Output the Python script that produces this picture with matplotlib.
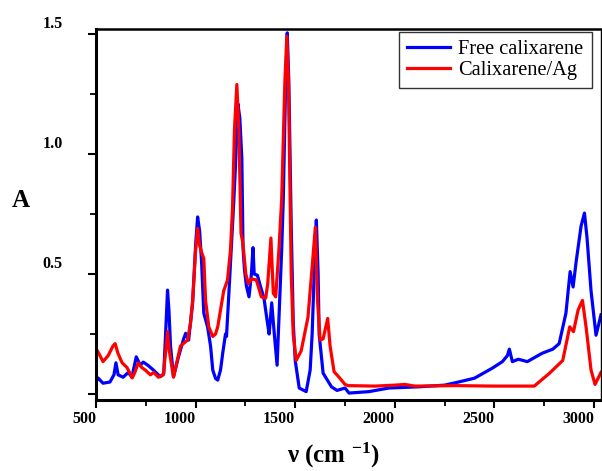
import matplotlib
matplotlib.use("Agg")
import matplotlib.pyplot as plt
import matplotlib.transforms as mtransforms
from matplotlib.ticker import MultipleLocator

plt.rcParams['font.family'] = ['Liberation Serif', 'DejaVu Serif']
plt.rcParams['mathtext.fontset'] = 'custom'
plt.rcParams['mathtext.rm'] = 'Liberation Serif:bold'
plt.rcParams['mathtext.bf'] = 'Liberation Serif:bold'
plt.rcParams['mathtext.default'] = 'bf'

# Free calixarene (blue)
free_x = [500, 510, 535, 570, 590, 600, 611, 636, 662, 680, 702, 722, 737, 760, 788, 823, 840,
          852, 859, 866, 874, 889, 914, 940, 950, 965, 985, 1000, 1010, 1020, 1030, 1041, 1060,
          1075, 1086, 1100, 1111, 1125, 1136, 1150, 1155, 1167, 1185, 1192, 1200, 1212, 1222,
          1232, 1238, 1245, 1255, 1268, 1280, 1288, 1294, 1310, 1325, 1343, 1360, 1369, 1382,
          1395, 1409, 1420, 1432, 1440, 1452, 1460, 1468, 1480, 1490, 1500, 1520, 1555, 1575,
          1585, 1597, 1606, 1615, 1620, 1640, 1682, 1710, 1750, 1770, 1870, 1970, 2120, 2250,
          2320, 2400, 2490, 2540, 2565, 2575, 2590, 2620, 2665, 2740, 2793, 2825, 2859, 2880,
          2895, 2910, 2935, 2952, 2965, 2985, 3010, 3035]
free_a = [0.05, 0.067, 0.045, 0.05, 0.08, 0.13, 0.08, 0.07, 0.09, 0.07, 0.155, 0.12, 0.133, 0.12,
          0.10, 0.072, 0.085, 0.30, 0.433, 0.35, 0.20, 0.072, 0.155, 0.23, 0.253, 0.225, 0.38,
          0.62, 0.738, 0.68, 0.55, 0.337, 0.28, 0.20, 0.10, 0.065, 0.058, 0.10, 0.17, 0.25, 0.24,
          0.42, 0.70, 0.81, 0.95, 1.21, 1.15, 0.98, 0.61, 0.52, 0.45, 0.405, 0.50, 0.61, 0.50,
          0.495, 0.45, 0.40, 0.30, 0.25, 0.38, 0.25, 0.12, 0.35, 0.60, 0.81, 1.30, 1.505, 1.30,
          0.70, 0.30, 0.14, 0.025, 0.01, 0.10, 0.25, 0.55, 0.725, 0.50, 0.25, 0.087, 0.03, 0.015,
          0.025, 0.004, 0.01, 0.025, 0.03, 0.037, 0.05, 0.066, 0.108, 0.135, 0.16, 0.187, 0.135,
          0.145, 0.135, 0.17, 0.187, 0.21, 0.337, 0.51, 0.446, 0.55, 0.70, 0.754, 0.65, 0.43,
          0.245, 0.33]

# Calixarene/Ag (red)
ag_x = [500, 520, 535, 561, 585, 596, 610, 631, 656, 682, 695, 712, 730, 747, 773, 790, 813, 838,
        850, 859, 868, 889, 905, 924, 960, 975, 985, 1000, 1010, 1020, 1030, 1041, 1050, 1066,
        1086, 1100, 1111, 1141, 1160, 1175, 1185, 1195, 1207, 1217, 1228, 1237, 1252, 1265, 1280,
        1305, 1330, 1352, 1362, 1378, 1390, 1402, 1418, 1432, 1448, 1458, 1466, 1480, 1490, 1505,
        1530, 1564, 1585, 1601, 1612, 1625, 1640, 1663, 1675, 1695, 1720, 1750, 1767, 1900, 2000,
        2050, 2100, 2300, 2500, 2700, 2777, 2843, 2878, 2897, 2920, 2942, 2960, 2985, 3005, 3035]
ag_a = [0.19, 0.16, 0.135, 0.16, 0.20, 0.21, 0.17, 0.13, 0.11, 0.067, 0.09, 0.13, 0.11, 0.10, 0.08,
        0.09, 0.07, 0.08, 0.18, 0.26, 0.18, 0.07, 0.13, 0.20, 0.225, 0.30, 0.39, 0.60, 0.69, 0.62,
        0.59, 0.565, 0.39, 0.28, 0.24, 0.25, 0.28, 0.43, 0.475, 0.60, 0.77, 1.10, 1.29, 1.10,
        0.67, 0.63, 0.50, 0.46, 0.48, 0.475, 0.405, 0.40, 0.46, 0.65, 0.42, 0.405, 0.60, 0.81,
        1.30, 1.49, 1.30, 0.50, 0.25, 0.14, 0.18, 0.32, 0.53, 0.695, 0.39, 0.225, 0.23, 0.315,
        0.20, 0.093, 0.07, 0.04, 0.035, 0.033, 0.037, 0.04, 0.033, 0.035, 0.033, 0.033, 0.087,
        0.14, 0.28, 0.26, 0.35, 0.39, 0.28, 0.10, 0.04, 0.09]

fig = plt.figure(figsize=(6.02, 4.71), dpi=100)
ax = fig.add_axes([0.1595, 0.1507, 0.8385, 0.7877])

ax.plot(free_x, free_a, color='#0000ff', lw=2.3, solid_joinstyle='round', label='Free calixarene')
ax.plot(ag_x, ag_a, color='#ff0000', lw=2.3, solid_joinstyle='round', label='Calixarene/Ag')

ax.set_xlim(500, 3034)
ax.set_ylim(-0.025, 1.521)

ax.set_xticks([500, 1000, 1500, 2000, 2500, 3000])
ax.set_xticklabels(['500', '1000', '1500', '2000', '2500', '3000'])
ax.xaxis.set_minor_locator(MultipleLocator(250))
ax.set_yticks([0, 0.5, 1.0, 1.5])
ax.set_yticklabels(['', '0.5', '1.0', '1.5'])
ax.yaxis.set_minor_locator(MultipleLocator(0.25))

ax.tick_params(axis='both', which='major', direction='out', length=6, width=1.5,
               labelsize=11.5)
ax.tick_params(axis='both', which='minor', direction='out', length=4, width=1.3)
ax.tick_params(axis='x', pad=2)
ax.tick_params(axis='y', pad=18)
for lab in ax.get_xticklabels():
    lab.set_fontweight('bold')
    lab.set_ha('right')
offset = mtransforms.ScaledTranslation(0, 0.12, fig.dpi_scale_trans)
for lab in ax.get_yticklabels():
    lab.set_fontweight('bold')
    lab.set_transform(lab.get_transform() + offset)

ax.spines['left'].set_linewidth(2.2)
ax.spines['bottom'].set_linewidth(2.2)
ax.spines['top'].set_linewidth(1.8)
ax.spines['right'].set_linewidth(1.0)

ax.set_ylabel('A', fontsize=18, fontweight='bold', rotation=0, ha='center', va='center')
ax.yaxis.set_label_coords(-0.150, 0.539)
ax.set_xlabel(r'ν (cm $^{-1}$)', fontsize=18, fontweight='bold', va='center')
ax.xaxis.set_label_coords(0.471, -0.148)

leg = ax.legend(loc='upper right', bbox_to_anchor=(0.982, 0.992), borderaxespad=0,
                fontsize=14.7, fancybox=False, framealpha=1, edgecolor='#333333',
                handlelength=2.1, handletextpad=0.4, labelspacing=0.05, borderpad=0.4)
leg.get_frame().set_linewidth(1.0)

fig.savefig('out.png', dpi=100)
